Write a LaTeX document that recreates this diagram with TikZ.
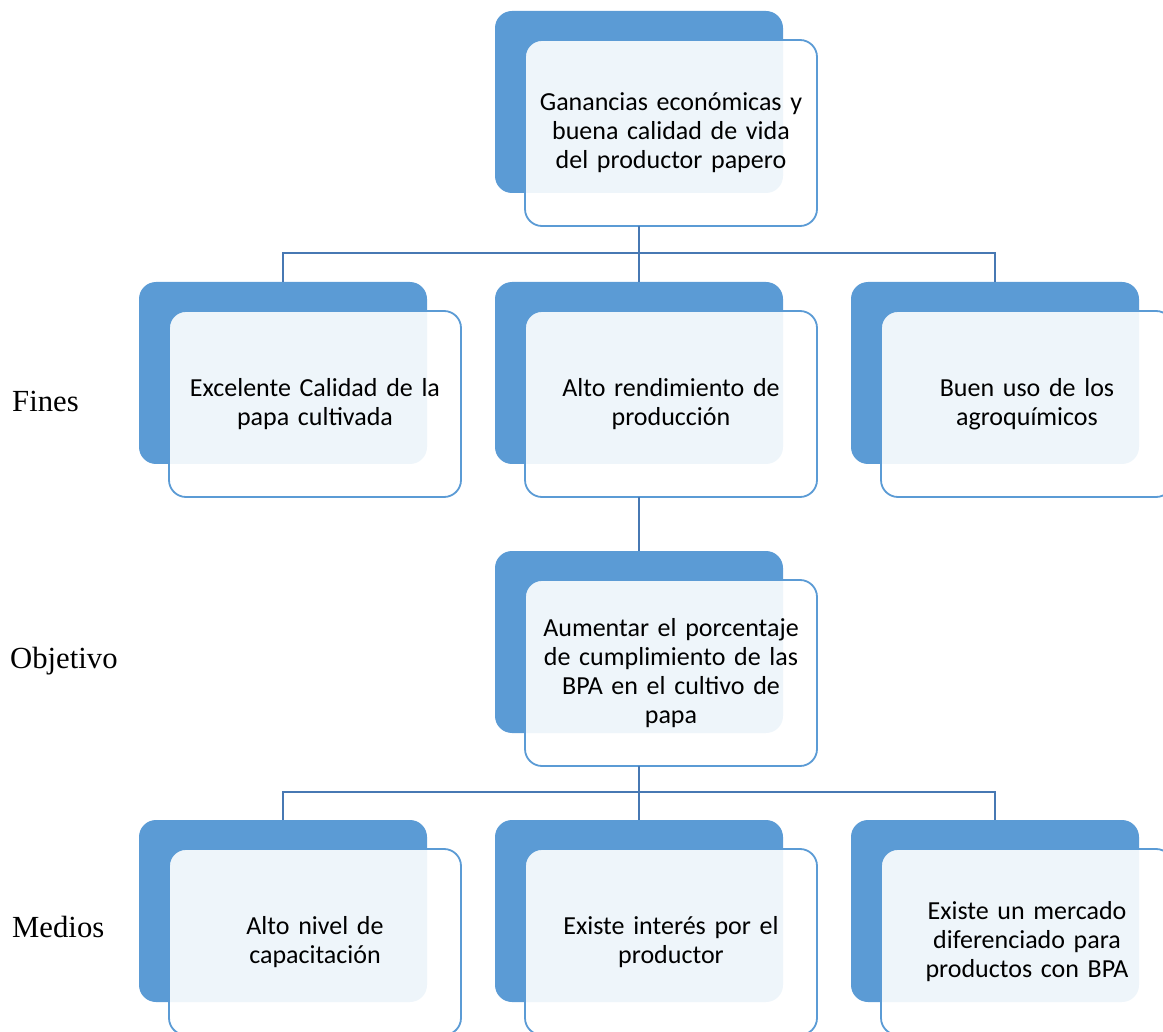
\documentclass[tikz,border=0pt]{standalone}
\usepackage{fontspec}
\setmainfont{Liberation Serif}
\newfontfamily\boxfont{Carlito}
\definecolor{accent}{HTML}{5B9BD5}
\definecolor{linkc}{HTML}{4778B3}
\begin{document}
\begin{tikzpicture}[x=1pt,y=-1pt,
  backbox/.style={fill=accent, rounded corners=17pt, inner sep=0pt, outer sep=0pt,
    anchor=north west, minimum width=288pt, minimum height=182pt},
  frontbox/.style={draw=accent, line width=1.8pt, fill=white, fill opacity=0.9,
    text opacity=1, rounded corners=17pt, inner sep=0pt, outer sep=0pt,
    anchor=north west, text width=292pt, minimum height=186pt, align=center,
    font=\boxfont\fontsize{26}{29}\selectfont},
  rowlabel/.style={anchor=base west, inner sep=0pt, font=\fontsize{30.7}{36}\selectfont},
  link/.style={draw=linkc, line width=2.3pt}]
\useasboundingbox (0,0) rectangle (1163,1032);
\clip (0,0) rectangle (1163,1032);

% goal
\node[backbox] (gb) at (495,11) {};
\node[frontbox] (g) at (525,40) {Ganancias económicas y\\buena calidad de vida\\del productor papero};

% ends
\node[backbox] (f1b) at (139,282) {};
\node[frontbox] (f1) at (169,311) {Excelente Calidad de la\\papa cultivada};
\node[backbox] (f2b) at (495,282) {};
\node[frontbox] (f2) at (525,311) {Alto rendimiento de\\producción};
\node[backbox] (f3b) at (851,282) {};
\node[frontbox] (f3) at (881,311) {Buen uso de los\\agroquímicos};

% objective
\node[backbox] (ob) at (495,551) {};
\node[frontbox] (o) at (525,580) {Aumentar el porcentaje\\de cumplimiento de las\\BPA en el cultivo de\\papa};

% means
\node[backbox] (m1b) at (139,820) {};
\node[frontbox] (m1) at (169,849) {Alto nivel de\\capacitación};
\node[backbox] (m2b) at (495,820) {};
\node[frontbox] (m2) at (525,849) {Existe interés por el\\productor};
\node[backbox] (m3b) at (851,820) {};
\node[frontbox] (m3) at (881,849) {Existe un mercado\\diferenciado para\\productos con BPA};

% connectors
\coordinate (bus1) at (639,253);
\coordinate (bus2) at (639,792);
\draw[link] (gb.south |- g.south) -- (f2b.north);
\draw[link] (f1b.north) |- (bus1) -| (f3b.north);
\draw[link] (f2b.south |- f2.south) -- (ob.north);
\draw[link] (ob.south |- o.south) -- (m2b.north);
\draw[link] (m1b.north) |- (bus2) -| (m3b.north);

% row labels
\node[rowlabel] (lf) at (12,412) {Fines};
\node[rowlabel] (lo) at (10,668) {Objetivo};
\node[rowlabel] (lm) at (12,937) {Medios};
\end{tikzpicture}
\end{document}
